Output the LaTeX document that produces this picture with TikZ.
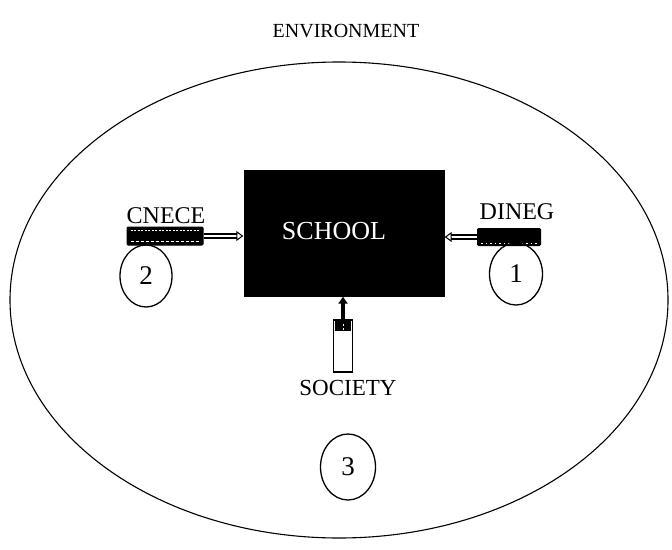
\documentclass[tikz,border=0pt]{standalone}
\usepackage{fontspec}
\setmainfont{Liberation Serif}
\usetikzlibrary{arrows.meta,shapes.geometric}
\begin{document}
\begin{tikzpicture}[x=1pt,y=-1pt,
  lbl/.style={font=\fontsize{24}{26}\selectfont, inner sep=0pt},
  numcirc/.style={draw, ellipse, line width=1.3pt, inner sep=0pt, font=\fontsize{27}{29}\selectfont},
  gadget/.style={draw=black, fill=black, line width=1pt, rounded corners=1pt, inner sep=0pt},
  feed/.style={line width=2.4pt, double=white, double distance=1.8pt, -{Triangle[open,length=7pt,width=10pt,line width=1pt]}}]
\useasboundingbox (0,0) rectangle (672,549);
% environment
\draw[line width=1.1pt] (339,300) ellipse [x radius=329, y radius=238];
\node[font=\fontsize{20}{22}\selectfont, inner sep=0pt] (env) at (346,31) {ENVIRONMENT};
% school
\node[fill=black, minimum width=201pt, minimum height=127pt, inner sep=0pt] (school) at (344,233) {};
\node[font=\fontsize{26}{28}\selectfont, text=white, inner sep=0pt] (schooltxt) at (334,231) {SCHOOL};
% CNECE
\node[lbl] (cnece) at (166,216) {CNECE};
\node[gadget, minimum width=76pt, minimum height=18pt] (g2) at (165,236) {};
\draw[white, line width=0.6pt, dash pattern=on 2pt off 1.5pt] ([shift={(4,4)}]g2.north west) -- ([shift={(-4,4)}]g2.north east);
\draw[white, line width=0.6pt, dash pattern=on 3pt off 2pt] ([shift={(4,-4)}]g2.south west) -- ([shift={(-4,-4)}]g2.south east);
\draw[feed] (g2.east) -- (school.west |- g2.east);
% DINEG
\node[lbl] (dineg) at (517,212) {DINEG};
\node[gadget, minimum width=63pt, minimum height=17pt] (g1) at (509,237) {};
\draw[white, line width=0.6pt, dash pattern=on 1.5pt off 3pt] ([shift={(4,-3)}]g1.south west) -- ([shift={(-4,-3)}]g1.south east);
\draw[feed] (g1.west) -- (school.east |- g1.west);
% SOCIETY
\node[draw, line width=1.6pt, fill=white, minimum width=19pt, minimum height=52pt, inner sep=0pt] (g3) at (343,346) {};
\fill[black] ([shift={(2,2)}]g3.north west) rectangle ([shift={(-2,12)}]g3.north east);
\draw[white, line width=0.6pt, dash pattern=on 2pt off 2pt] ([shift={(0,5)}]g3.north) -- ([shift={(0,-8)}]g3.south);
\draw[line width=3.5pt, -{Triangle[length=7pt,width=9pt]}] (g3.north) -- (school.south -| g3.north);
\node[font=\fontsize{23}{25}\selectfont, inner sep=0pt] (society) at (348,388) {SOCIETY};
% numbered circles
\node[numcirc, minimum width=52pt, minimum height=62pt] (c2) at (146,276) {2};
\node[numcirc, minimum width=53pt, minimum height=62pt] (c1) at (516,274) {1};
\node[numcirc, minimum width=55pt, minimum height=66pt] (c3) at (348,467) {3};
\end{tikzpicture}
\end{document}
